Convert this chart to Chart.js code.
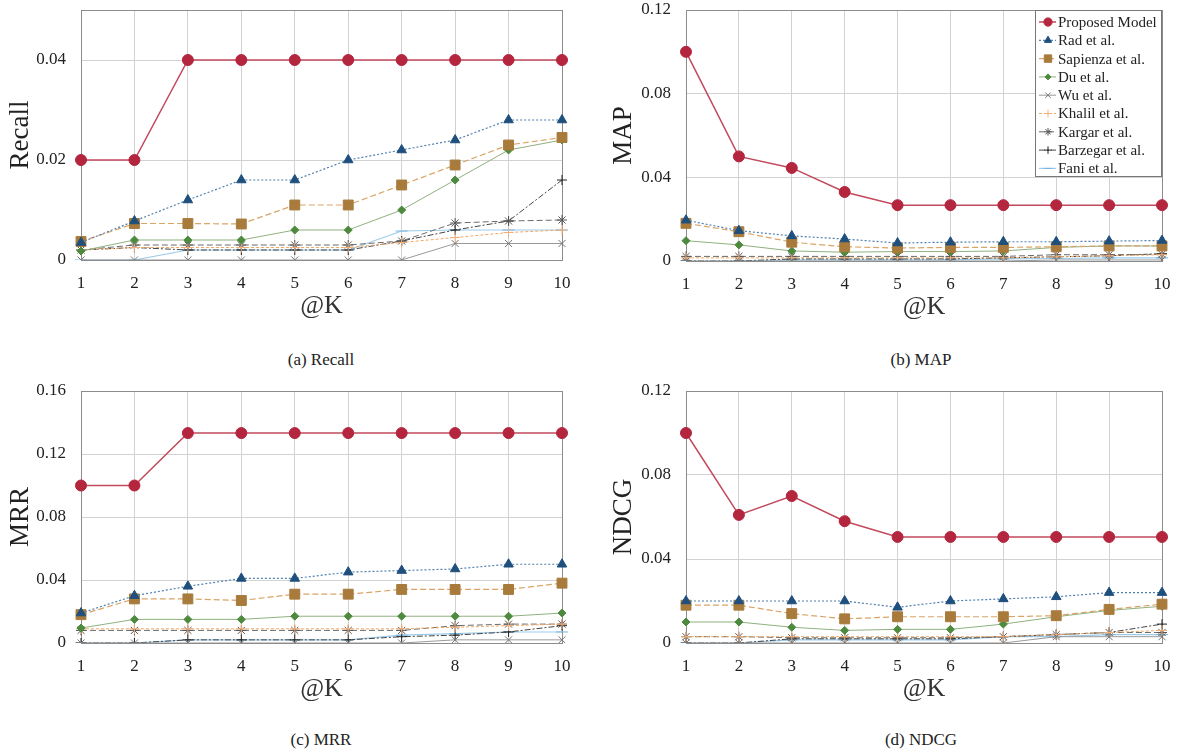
<html>

<head>
    <script src="https://cdn.jsdelivr.net/npm/chart.js@4"></script>
    <style>
        body {
            margin: 0;
            background-color: #ffffff;
            width: 1186px;
            height: 755px;
            position: relative;
            overflow: hidden;
            font-family: 'Liberation Serif', serif;
        }

        canvas {
            position: absolute;
        }

        .caption {
            position: absolute;
            width: 300px;
            text-align: center;
            font-size: 17px;
            color: #222;
        }
    </style>
</head>

<body>
    <canvas id="recallChart" width="590" height="330" style="left:0px; top:0px"></canvas>
    <canvas id="mapChart" width="586" height="331" style="left:600px; top:0px"></canvas>
    <canvas id="mrrChart" width="590" height="332" style="left:0px; top:381px"></canvas>
    <canvas id="ndcgChart" width="586" height="332" style="left:600px; top:381px"></canvas>

    <div class="caption" style="left:171px; top:350px">(a) Recall</div>
    <div class="caption" style="left:771px; top:350px">(b) MAP</div>
    <div class="caption" style="left:171px; top:730px">(c) MRR</div>
    <div class="caption" style="left:771px; top:730px">(d) NDCG</div>
</body>
<script>

    // ---------------- data ----------------
    var kLabels = ['1', '2', '3', '4', '5', '6', '7', '8', '9', '10'];

    var seriesNames = ['Proposed Model', 'Rad et al.', 'Sapienza et al.', 'Du et al.', 'Wu et al.',
        'Khalil et al.', 'Kargar et al.', 'Barzegar et al.', 'Fani et al.'];

    // one row per series, same order as seriesNames
    var recallValues = [
        [0.02, 0.02, 0.04, 0.04, 0.04, 0.04, 0.04, 0.04, 0.04, 0.04],
        [0.0035, 0.0078, 0.012, 0.016, 0.016, 0.02, 0.022, 0.024, 0.028, 0.028],
        [0.0037, 0.0073, 0.0073, 0.0072, 0.011, 0.011, 0.015, 0.019, 0.023, 0.0245],
        [0.0018, 0.004, 0.004, 0.004, 0.006, 0.006, 0.01, 0.016, 0.022, 0.024],
        [0, 0, 0, 0, 0, 0, 0, 0.0033, 0.0033, 0.0033],
        [0.002, 0.0025, 0.0025, 0.0025, 0.0025, 0.0025, 0.0035, 0.0045, 0.0055, 0.006],
        [0.002, 0.003, 0.003, 0.003, 0.003, 0.003, 0.0038, 0.0074, 0.0078, 0.008],
        [0.002, 0.0025, 0.002, 0.002, 0.002, 0.002, 0.0038, 0.006, 0.0078, 0.016],
        [0, 0, 0.002, 0.002, 0.002, 0.002, 0.0058, 0.006, 0.006, 0.006]
    ];

    var mapValues = [
        [0.1, 0.05, 0.0445, 0.033, 0.0267, 0.0267, 0.0267, 0.0267, 0.0267, 0.0267],
        [0.0195, 0.0145, 0.012, 0.0105, 0.0086, 0.009, 0.0092, 0.0092, 0.0095, 0.0098],
        [0.018, 0.014, 0.009, 0.0068, 0.0062, 0.0065, 0.0065, 0.0068, 0.0072, 0.0072],
        [0.0097, 0.0077, 0.0048, 0.0042, 0.0045, 0.0045, 0.0048, 0.0065, 0.0072, 0.0072],
        [0, 0, 0, 0, 0, 0, 0, 0.0005, 0.0005, 0.0005],
        [0.0015, 0.0015, 0.0015, 0.0015, 0.0015, 0.0015, 0.0015, 0.002, 0.0025, 0.003],
        [0.0022, 0.0022, 0.0022, 0.0022, 0.0022, 0.0022, 0.0022, 0.003, 0.003, 0.0032],
        [0, 0, 0.001, 0.001, 0.001, 0.001, 0.0015, 0.002, 0.0025, 0.0035],
        [0, 0, 0.0005, 0.0005, 0.0005, 0.0005, 0.001, 0.0012, 0.0015, 0.0015]
    ];

    var mrrValues = [
        [0.1, 0.1, 0.1333, 0.1333, 0.1333, 0.1333, 0.1333, 0.1333, 0.1333, 0.1333],
        [0.019, 0.03, 0.036, 0.041, 0.041, 0.045, 0.046, 0.047, 0.05, 0.05],
        [0.018, 0.028, 0.028, 0.027, 0.031, 0.031, 0.034, 0.034, 0.034, 0.038],
        [0.0095, 0.015, 0.015, 0.015, 0.017, 0.017, 0.017, 0.017, 0.017, 0.019],
        [0, 0, 0, 0, 0, 0, 0, 0.002, 0.002, 0.002],
        [0.009, 0.009, 0.009, 0.009, 0.009, 0.009, 0.009, 0.01, 0.011, 0.012],
        [0.008, 0.008, 0.008, 0.008, 0.008, 0.008, 0.008, 0.011, 0.012, 0.012],
        [0, 0, 0.002, 0.002, 0.002, 0.002, 0.004, 0.005, 0.007, 0.011],
        [0, 0, 0.002, 0.002, 0.002, 0.002, 0.005, 0.006, 0.007, 0.007]
    ];

    var ndcgValues = [
        [0.1, 0.061, 0.07, 0.058, 0.0505, 0.0505, 0.0505, 0.0505, 0.0505, 0.0505],
        [0.02, 0.02, 0.02, 0.02, 0.017, 0.02, 0.021, 0.022, 0.024, 0.024],
        [0.018, 0.018, 0.014, 0.0115, 0.0125, 0.0125, 0.0125, 0.013, 0.016, 0.0185],
        [0.01, 0.01, 0.0075, 0.006, 0.0065, 0.0065, 0.009, 0.0125, 0.0155, 0.0175],
        [0, 0, 0, 0, 0, 0, 0, 0.003, 0.003, 0.003],
        [0.003, 0.003, 0.003, 0.003, 0.003, 0.003, 0.003, 0.004, 0.005, 0.006],
        [0.003, 0.003, 0.0025, 0.0025, 0.0025, 0.0025, 0.003, 0.004, 0.005, 0.005],
        [0, 0, 0.002, 0.002, 0.002, 0.002, 0.003, 0.004, 0.005, 0.009],
        [0, 0, 0.0015, 0.0015, 0.0015, 0.0015, 0.003, 0.003, 0.004, 0.004]
    ];

    var recallTicks = [0, 0.02, 0.04];
    var mapTicks = [0, 0.04, 0.08, 0.12];
    var mrrTicks = [0, 0.04, 0.08, 0.12, 0.16];
    var ndcgTicks = [0, 0.04, 0.08, 0.12];

    // ---------------- styles ----------------
    var seriesStyle = [
        { color: '#b3263e', line: '#c24a5c', point: 'circle', r: 5.5, width: 1.5, dash: [] },
        { color: '#1f4f7d', line: '#4f80b0', point: 'triangle', r: 5.5, width: 1.2, dash: [2, 2] },
        { color: '#a87b3c', line: '#d9a466', point: 'rect', r: 7, width: 1.2, dash: [6, 3] },
        { color: '#4d8a3d', line: '#8fb07f', point: 'rectRot', r: 4, width: 1, dash: [] },
        { color: '#777777', line: '#9a9a9a', point: 'crossRot', r: 5, width: 1, dash: [] },
        { color: '#f0b07c', line: '#f2a865', point: 'cross', r: 5, width: 1, dash: [3, 2] },
        { color: '#555555', line: '#6c6c6c', point: 'star', r: 5, width: 1, dash: [6, 3] },
        { color: '#222222', line: '#444444', point: 'cross', r: 5, width: 1, dash: [6, 2, 2, 2] },
        { color: '#78b4de', line: '#9ccbea', point: 'line', r: 6, width: 1.2, dash: [] }
    ];

    Chart.defaults.font.family = "'Liberation Serif', serif";
    Chart.defaults.color = '#222';

    var framePlugin = {
        id: 'frame',
        beforeDatasetsDraw: function (chart) {
            var a = chart.chartArea, ctx = chart.ctx;
            ctx.save();
            ctx.strokeStyle = '#8c8c8c';
            ctx.lineWidth = 1;
            ctx.strokeRect(a.left + 0.5, a.top + 0.5, a.right - a.left, a.bottom - a.top);
            ctx.restore();
        }
    };

    // legend drawn inside the MAP plot, top right
    var insideLegend = {
        id: 'insideLegend',
        afterDraw: function (chart) {
            var ctx = chart.ctx, a = chart.chartArea;
            var boxW = 127, rowH = 18.3, boxH = 167;
            var x0 = a.right - boxW, y0 = a.top;
            ctx.save();
            ctx.fillStyle = '#ffffff';
            ctx.fillRect(x0, y0, boxW, boxH);
            ctx.strokeStyle = '#777';
            ctx.lineWidth = 1;
            ctx.strokeRect(x0 + 0.5, y0 + 0.5, boxW - 1, boxH - 1);
            ctx.font = "15px 'Liberation Serif', serif";
            ctx.textBaseline = 'middle';
            for (var i = 0; i < seriesNames.length; i++) {
                var st = seriesStyle[i];
                var cy = y0 + 12 + i * rowH;
                ctx.strokeStyle = st.line;
                ctx.lineWidth = st.width;
                ctx.setLineDash(st.dash);
                ctx.beginPath();
                ctx.moveTo(x0 + 4, cy);
                ctx.lineTo(x0 + 21, cy);
                ctx.stroke();
                ctx.setLineDash([]);
                ctx.fillStyle = st.color;
                ctx.strokeStyle = st.color;
                ctx.lineWidth = 1;
                if (Chart.helpers && Chart.helpers.drawPoint) {
                    Chart.helpers.drawPoint(ctx, { pointStyle: st.point, radius: st.r * 0.75, rotation: 0, borderWidth: 1 }, x0 + 13, cy);
                }
                ctx.fillStyle = '#222';
                ctx.fillText(seriesNames[i], x0 + 23, cy + 1);
            }
            ctx.restore();
        }
    };

    function makeChart(canvasId, values, tickList, yMax, yTitle, yAxisWidth, titlePad, withLegend) {
        var datasets = [];
        for (var i = 0; i < seriesNames.length; i++) {
            var st = seriesStyle[i];
            datasets.push({
                label: seriesNames[i],
                data: values[i],
                borderColor: st.line,
                borderWidth: st.width,
                borderDash: st.dash,
                pointStyle: st.point,
                pointRadius: st.r,
                pointBackgroundColor: st.color,
                pointBorderColor: st.color,
                pointBorderWidth: 1,
                tension: 0,
                fill: false
            });
        }

        var plugins = [framePlugin];
        if (withLegend) plugins.push(insideLegend);

        return new Chart(document.getElementById(canvasId).getContext('2d'), {
            type: 'line',
            data: { labels: kLabels, datasets: datasets },
            plugins: plugins,
            options: {
                responsive: false,
                animation: false,
                devicePixelRatio: 1,
                layout: { padding: { top: 10, right: 24 + (canvasId == 'recallChart' || canvasId == 'mrrChart' ? 4 : 0), left: 0, bottom: 0 } },
                plugins: { legend: { display: false }, tooltip: { enabled: false } },
                scales: {
                    x: {
                        offset: false,
                        grid: { color: '#d2d2d2', drawTicks: false },
                        border: { display: false },
                        ticks: { padding: 13, font: { size: 17 }, color: '#222' },
                        title: { display: true, text: '@K', font: { size: 26 }, color: '#333', padding: { top: 0, bottom: 8 } },
                        afterFit: function (s) { s.height = 70; s.paddingLeft = 0; s.paddingRight = 0; }
                    },
                    y: {
                        min: 0,
                        max: yMax,
                        grid: { color: '#d2d2d2', drawTicks: false },
                        border: { display: false },
                        afterBuildTicks: function (s) {
                            s.ticks = tickList.map(function (v) { return { value: v }; });
                        },
                        ticks: {
                            padding: 15,
                            font: { size: 17 },
                            color: '#222',
                            callback: function (v) { return v === 0 ? '0' : v.toFixed(2); }
                        },
                        title: { display: true, text: yTitle, font: { size: 27 }, color: '#222', padding: { top: titlePad, bottom: 0 } },
                        afterFit: function (s) { s.width = yAxisWidth; s.paddingTop = 0; s.paddingBottom = 0; }
                    }
                }
            }
        });
    }

    makeChart('recallChart', recallValues, recallTicks, 0.05, 'Recall', 81, 5, false);
    makeChart('mapChart', mapValues, mapTicks, 0.12, 'MAP', 86, 8, true);
    makeChart('mrrChart', mrrValues, mrrTicks, 0.16, 'MRR', 81, 5, false);
    makeChart('ndcgChart', ndcgValues, ndcgTicks, 0.12, 'NDCG', 86, 8, false);

</script>

</html>
